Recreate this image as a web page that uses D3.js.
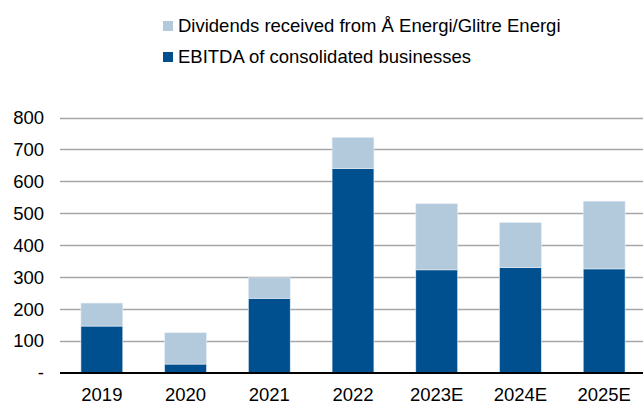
<!DOCTYPE html>
<html lang="en">
<head>
  <meta charset="UTF-8">
  <title>EBITDA and dividends</title>
  <script src="https://cdn.jsdelivr.net/npm/d3@7"></script>
  <style>
    body { margin: 0; background: #fff; }
    text { font-family: "Liberation Sans", Arial, sans-serif; fill: #000; }
  </style>
</head>
<body>
  <div id="chart"></div>
  <script>
    // Values (NOK m)
    const years = ["2019", "2020", "2021", "2022", "2023E", "2024E", "2025E"];
    const ebitda = [147, 28, 234, 640, 323, 330, 326];
    const dividends = [72, 98, 64, 98, 207, 141, 212];
    const yTicks = [0, 100, 200, 300, 400, 500, 600, 700, 800];
    const seriesNames = ["Dividends received from Å Energi/Glitre Energi", "EBITDA of consolidated businesses"];

    const W = 643, H = 403;
    const colors = { ebitda: "#004F8F", dividends: "#B3C9DC" };
    const fontSize = "18.5px";

    const svg = d3.select("#chart")
      .append("svg")
        .attr("width", W)
        .attr("height", H);

    const x = d3.scaleBand()
      .domain(years)
      .range([60, 646])
      .paddingInner(0.5)
      .paddingOuter(0.25);

    const y = d3.scaleLinear()
      .domain([0, 800])
      .range([373, 117.5]);

    // gridlines
    svg.append("g")
      .selectAll("line")
      .data(yTicks.filter(d => d > 0))
      .join("line")
        .attr("x1", 60)
        .attr("x2", W)
        .attr("y1", d => Math.round(y(d)) + 0.5)
        .attr("y2", d => Math.round(y(d)) + 0.5)
        .attr("stroke", "#A6A6A6")
        .attr("stroke-width", 1.5);

    // y axis labels
    const yAxis = svg.append("g")
      .attr("transform", "translate(60,0)")
      .call(d3.axisLeft(y).tickValues(yTicks).tickSize(0).tickPadding(16)
        .tickFormat(d => d === 0 ? "-" : d));
    yAxis.select(".domain").remove();
    yAxis.selectAll("text")
      .style("font-size", fontSize)
      .style("font-family", "'Liberation Sans', Arial, sans-serif");

    // stacked bars
    const data = years.map((yr, i) => ({ year: yr, ebitda: ebitda[i], dividends: dividends[i] }));
    const stack = d3.stack().keys(["ebitda", "dividends"])(data);

    svg.append("g")
      .selectAll("g")
      .data(stack)
      .join("g")
        .attr("fill", d => colors[d.key])
      .selectAll("rect")
      .data(d => d)
      .join("rect")
        .attr("x", d => x(d.data.year))
        .attr("width", x.bandwidth())
        .attr("y", d => y(d[1]))
        .attr("height", d => y(d[0]) - y(d[1]))
        .attr("stroke", "#E4ECF4")
        .attr("stroke-width", 0.6);

    // zero line
    svg.append("line")
      .attr("x1", 60)
      .attr("x2", W)
      .attr("y1", y(0))
      .attr("y2", y(0))
      .attr("stroke", "#000")
      .attr("stroke-width", 2);

    // x axis labels
    const xAxis = svg.append("g")
      .attr("transform", `translate(0,${y(0)})`)
      .call(d3.axisBottom(x).tickSize(0).tickPadding(15));
    xAxis.select(".domain").remove();
    xAxis.selectAll("text")
      .style("font-size", fontSize)
      .style("font-family", "'Liberation Sans', Arial, sans-serif");

    // legend
    const legend = svg.append("g")
      .selectAll("g")
      .data(seriesNames)
      .join("g")
        .attr("transform", (d, i) => `translate(163,${21 + i * 31})`);
    legend.append("rect")
      .attr("width", 10)
      .attr("height", 10)
      .attr("fill", (d, i) => i === 0 ? colors.dividends : colors.ebitda);
    legend.append("text")
      .attr("x", 15)
      .attr("y", 11)
      .style("font-size", fontSize)
      .text(d => d);
  </script>
</body>
</html>
